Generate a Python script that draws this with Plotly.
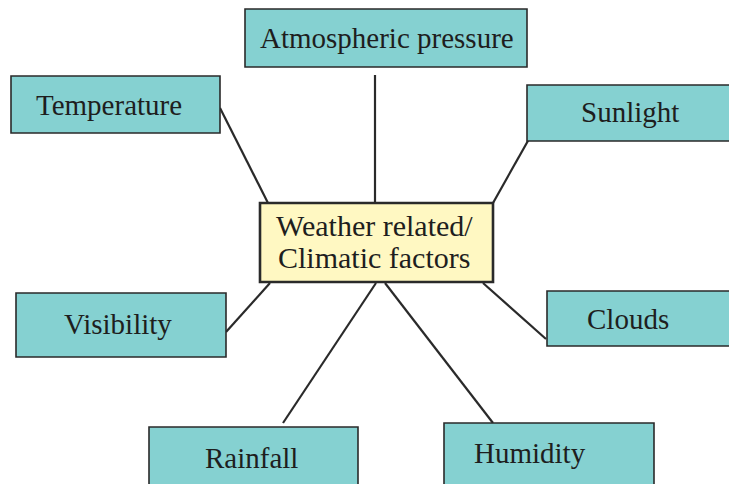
import plotly.graph_objects as go

# Diagram content
center_lines = ["Weather related/", "Climatic factors"]
factors = ["Atmospheric pressure", "Temperature", "Sunlight", "Visibility",
           "Clouds", "Rainfall", "Humidity"]

# Layout (pixel coordinates on a 729x484 canvas, y downwards)
boxes = {  # x0, y0, x1, y1
    "Atmospheric pressure": (245, 9, 527, 67),
    "Temperature": (11, 76, 220, 133),
    "Sunlight": (527, 85, 745, 141),
    "Visibility": (16, 293, 226, 357),
    "Clouds": (547, 291, 745, 346),
    "Rainfall": (149, 427, 358, 500),
    "Humidity": (444, 423, 654, 500),
}
text_pos = {
    "Atmospheric pressure": (387, 38),
    "Temperature": (109, 105),
    "Sunlight": (630, 112),
    "Visibility": (118, 324),
    "Clouds": (628, 319),
    "Rainfall": (251, 458),
    "Humidity": (530, 453),
}
links = {  # connector: from factor box to center box
    "Atmospheric pressure": ((375, 75), (375, 203)),
    "Temperature": ((220, 108), (268, 203)),
    "Sunlight": ((529, 139), (493, 203)),
    "Visibility": ((226, 332), (270, 283)),
    "Clouds": ((546, 339), (483, 283)),
    "Rainfall": ((283, 423), (376, 283)),
    "Humidity": ((493, 423), (385, 283)),
}
center_box = (260, 203, 493, 282)
center_text_y = [225, 257]
center_text_x = 374

BOX_FILL = "#85D1D1"
CENTER_FILL = "#FFF8C2"
EDGE = "#2a2a2a"
FONT = dict(family="Liberation Serif, Times New Roman, serif", size=29, color="#1e1e1e")
CENTER_FONT = dict(FONT, size=30)

fig = go.Figure()
shapes = []
annotations = []

for name in factors:
    (xa, ya), (xb, yb) = links[name]
    shapes.append(dict(type="line", xref="x", yref="y", x0=xa, y0=ya, x1=xb, y1=yb,
                       line=dict(color=EDGE, width=2.2), layer="below"))

for name in factors:
    x0, y0, x1, y1 = boxes[name]
    shapes.append(dict(type="rect", xref="x", yref="y", x0=x0, y0=y0, x1=x1, y1=y1,
                       fillcolor=BOX_FILL, line=dict(color=EDGE, width=1.6)))
    tx, ty = text_pos[name]
    annotations.append(dict(x=tx, y=ty, xref="x", yref="y", text=name, showarrow=False,
                            xanchor="center", yanchor="middle", font=FONT))

x0, y0, x1, y1 = center_box
shapes.append(dict(type="rect", xref="x", yref="y", x0=x0, y0=y0, x1=x1, y1=y1,
                   fillcolor=CENTER_FILL, line=dict(color=EDGE, width=2.6)))
for line, ty in zip(center_lines, center_text_y):
    annotations.append(dict(x=center_text_x, y=ty, xref="x", yref="y", text=line,
                            showarrow=False, xanchor="center", yanchor="middle",
                            font=CENTER_FONT))

# invisible trace to anchor axes
fig.add_trace(go.Scatter(x=[0, 729], y=[0, 484], mode="markers",
                         marker=dict(opacity=0), hoverinfo="skip", showlegend=False))

fig.update_layout(
    width=729, height=484,
    margin=dict(l=0, r=0, t=0, b=0),
    paper_bgcolor="white", plot_bgcolor="white",
    shapes=shapes, annotations=annotations,
    xaxis=dict(range=[0, 729], visible=False, fixedrange=True),
    yaxis=dict(range=[484, 0], visible=False, fixedrange=True),
    showlegend=False,
)

fig.write_html(
    "out.html",
    config={"displayModeBar": False, "staticPlot": True},
    post_script="document.body.style.margin='0';document.body.style.overflow='hidden';",
)
